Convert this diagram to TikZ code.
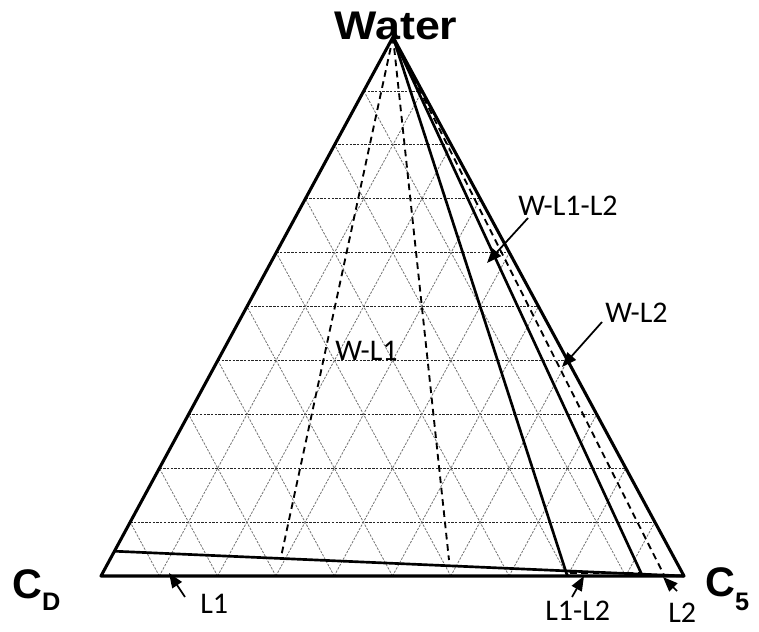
\documentclass[tikz,border=0pt]{standalone}
\usepackage{fontspec}
\setmainfont{Liberation Sans}
\newfontfamily\lblfont{Carlito}
\newfontfamily\titlefont[FakeStretch=1.12]{Liberation Sans}
\usetikzlibrary{arrows.meta,calc}
\tikzset{
  triedge/.style={line width=2.3pt,line join=round},
  phaseline/.style={line width=2pt},
  tieline/.style={line width=1.4pt,dash pattern=on 5pt off 3.5pt},
  gridh/.style={line width=0.6pt,black!85,dash pattern=on 1.8pt off 1pt},
  gridd/.style={line width=0.6pt,black!55,dash pattern=on 1.8pt off 1pt},
  pointer/.style={-{Triangle[length=11pt,width=8.5pt]},line width=1.3pt},
  region/.style={font=\lblfont\fontsize{22.5}{24}\selectfont,inner sep=0pt,anchor=base west},
  corner/.style={font=\bfseries\fontsize{31}{33}\selectfont,inner sep=0pt,anchor=base west}
}
\begin{document}
\begin{tikzpicture}[x=0.75pt,y=-0.75pt]
\useasboundingbox (0,0) rectangle (759,631);
\coordinate (A) at (101,576);
\coordinate (B) at (684,576);
\coordinate (T) at (393,37);
\foreach \i in {1,...,9}{\pgfmathsetmacro{\t}{\i/10}\pgfmathsetmacro{\s}{1-\i/10}
  \draw[gridh] ($(A)!\t!(T)$)--($(B)!\t!(T)$);
  \draw[gridd] ($(A)!\t!(B)$)--($(A)!\t!(T)$);
  \draw[gridd] ($(A)!\t!(B)$)--($(B)!\s!(T)$);}
\coordinate (L1a) at ($(A)!0.046!(T)$);
\coordinate (p1) at (567,575);
\coordinate (p2) at (642,575);
\coordinate (p3) at (664,575);
\coordinate (q1) at (281,557);
\coordinate (q2) at (449,560);
\coordinate (r1) at (570,573);
\coordinate (r2) at (641,573);
\draw[tieline] (T)--(q1);
\draw[tieline] (T)--(q2);
\draw[tieline] (T)--(p3);
\draw[tieline] (r1)--(r2);
\draw[phaseline] (T)--(p1);
\draw[phaseline] (T)--(p2);
\draw[phaseline] (L1a)--(B);
\draw[triedge] (A)--(T)--(B)--cycle;
\node[font=\titlefont\bfseries\fontsize{30}{31}\selectfont,inner sep=0pt,anchor=base] (water) at (396,40) {Water};
\node[corner] (cd) at (12,598) {C\raisebox{-9pt}{\fontsize{19}{19}\selectfont D}};
\node[corner] (c5) at (705,596) {C\raisebox{-11pt}{\fontsize{19}{19}\selectfont 5}};
\node[region] (wl1) at (335,360) {W-L1};
\node[region] (wl1l2) at (518,215) {W-L1-L2};
\node[region] (wl2) at (605,322) {W-L2};
\node[region] (l1) at (200,613) {L1};
\node[region] (l1l2) at (545,620) {L1-L2};
\node[region] (l2) at (668,622) {L2};
\coordinate (a1) at (528,218); \coordinate (b1) at (487,263);
\coordinate (a2) at (602,322); \coordinate (b2) at (562,367);
\coordinate (a3) at (185,597); \coordinate (b3) at (169,573);
\coordinate (a4) at (572,597); \coordinate (b4) at (584,576);
\coordinate (a5) at (677,591); \coordinate (b5) at (663,577);
\foreach \k in {1,...,5}{\draw[pointer] (a\k)--(b\k);}
\end{tikzpicture}
\end{document}
